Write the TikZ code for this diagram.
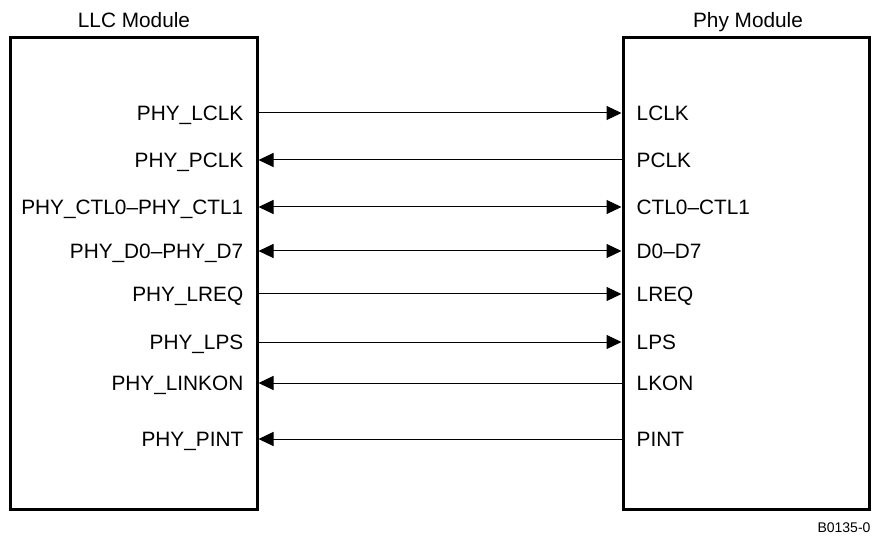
\documentclass[tikz,border=0pt]{standalone}
\usepackage{fontspec}
\setmainfont{Liberation Sans}
\usetikzlibrary{arrows.meta}

\begin{document}
\begin{tikzpicture}[x=1bp, y=-1bp,
    every node/.style={font=\fontsize{20.8bp}{24bp}\selectfont},
    every label/.style={text depth=0pt, inner sep=0pt},
    label distance=15bp,
    module/.style={draw, line width=3bp, minimum width=246bp, minimum height=471bp, inner sep=0pt},
    title/.style={text depth=0pt},
    sig/.style={line width=1bp},
    tip/.style={-{Triangle[length=15bp,width=14bp]}}]
    \useasboundingbox (0,0) rectangle (878,546);
    \node[module] (llc) at (134,273.5) {};
    \node[module] (phy) at (746,273.5) {};
    \node[title] (llcname) at (134,20) {LLC Module};
    \node[title] (phyname) at (748,20) {Phy Module};
    \node[anchor=east, font=\fontsize{14bp}{16bp}\selectfont] (fig) at (874,528) {B0135-0};
    % left side pins
    \coordinate[label=left:PHY\_LCLK] (L1) at (llc.east |- 0,113);
    \coordinate[label=left:PHY\_PCLK] (L2) at (llc.east |- 0,160);
    \coordinate[label=left:PHY\_CTL0--PHY\_CTL1] (L3) at (llc.east |- 0,207);
    \coordinate[label=left:PHY\_D0--PHY\_D7] (L4) at (llc.east |- 0,251);
    \coordinate[label=left:PHY\_LREQ] (L5) at (llc.east |- 0,294);
    \coordinate[label=left:PHY\_LPS] (L6) at (llc.east |- 0,342);
    \coordinate[label=left:PHY\_LINKON] (L7) at (llc.east |- 0,383);
    \coordinate[label=left:PHY\_PINT] (L8) at (llc.east |- 0,439);
    % right side pins
    \coordinate[label=right:LCLK] (R1) at (phy.west |- 0,113);
    \coordinate[label=right:PCLK] (R2) at (phy.west |- 0,160);
    \coordinate[label=right:CTL0--CTL1] (R3) at (phy.west |- 0,207);
    \coordinate[label=right:D0--D7] (R4) at (phy.west |- 0,251);
    \coordinate[label=right:LREQ] (R5) at (phy.west |- 0,294);
    \coordinate[label=right:LPS] (R6) at (phy.west |- 0,342);
    \coordinate[label=right:LKON] (R7) at (phy.west |- 0,383);
    \coordinate[label=right:PINT] (R8) at (phy.west |- 0,439);
    \foreach \i in {1,5,6}
        \draw[sig, tip] (L\i) -- (R\i);
    \foreach \i in {2,7,8}
        \draw[sig, tip] (R\i) -- (L\i);
    \foreach \i in {3,4}
        \draw[sig, {Triangle[length=15bp,width=14bp]}-{Triangle[length=15bp,width=14bp]}] (L\i) -- (R\i);
\end{tikzpicture}
\end{document}
